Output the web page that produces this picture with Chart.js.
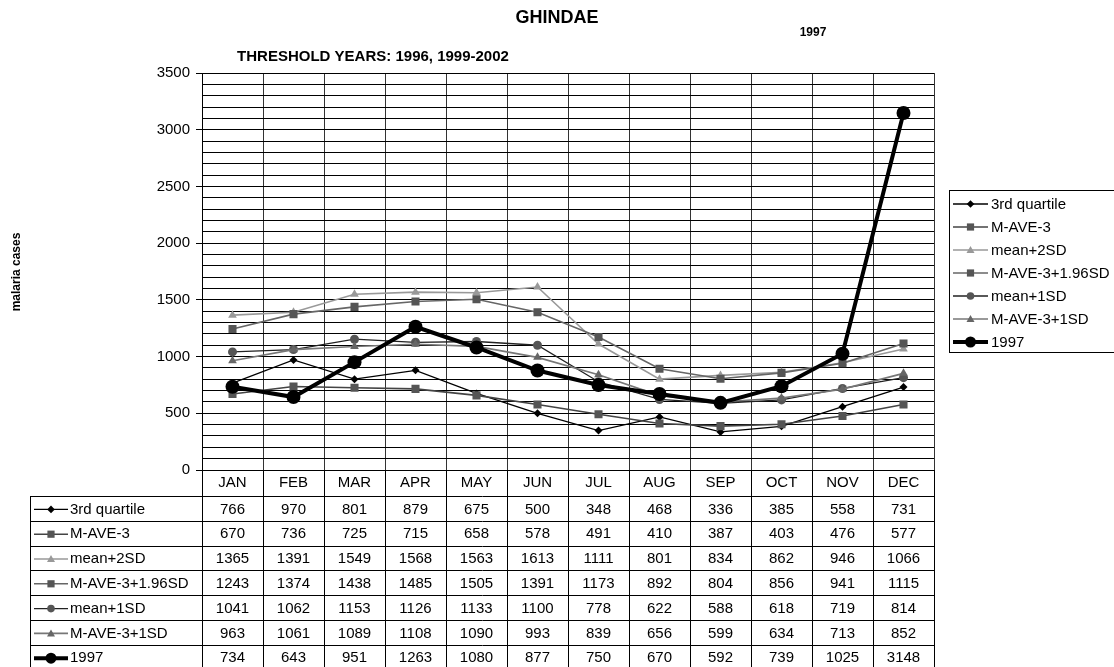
<!DOCTYPE html>
<html>
<head>
<meta charset="utf-8">
<script src="https://cdn.jsdelivr.net/npm/chart.js@4/dist/chart.umd.min.js"></script>
<style>
  html, body { margin: 0; padding: 0; background: #fff; }
  #wrap { width: 1114px; height: 667px; position: relative; }
</style>
</head>
<body>
<div id="wrap"><canvas id="malariaChart" width="1114" height="667"></canvas></div>
<script>
const months = ["JAN", "FEB", "MAR", "APR", "MAY", "JUN", "JUL", "AUG", "SEP", "OCT", "NOV", "DEC"];
const thirdQuartile = [766, 970, 801, 879, 675, 500, 348, 468, 336, 385, 558, 731];
const mAve3 = [670, 736, 725, 715, 658, 578, 491, 410, 387, 403, 476, 577];
const meanPlus2SD = [1365, 1391, 1549, 1568, 1563, 1613, 1111, 801, 834, 862, 946, 1066];
const mAve3Plus196SD = [1243, 1374, 1438, 1485, 1505, 1391, 1173, 892, 804, 856, 941, 1115];
const meanPlus1SD = [1041, 1062, 1153, 1126, 1133, 1100, 778, 622, 588, 618, 719, 814];
const mAve3Plus1SD = [963, 1061, 1089, 1108, 1090, 993, 839, 656, 599, 634, 713, 852];
const year1997 = [734, 643, 951, 1263, 1080, 877, 750, 670, 592, 739, 1025, 3148];

const FONT = "'Liberation Sans', Arial, sans-serif";

// keyR = marker size used in the legend / table keys
const series = [
  { label: "3rd quartile", data: thirdQuartile, line: "#000", point: "#000", style: "rectRot", r: 4, keyR: 3.8, w: 1.3 },
  { label: "M-AVE-3", data: mAve3, line: "#444", point: "#555", style: "rect", r: 5.7, keyR: 3.6, w: 1.6 },
  { label: "mean+2SD", data: meanPlus2SD, line: "#999", point: "#999", style: "triangle", r: 5, keyR: 4, w: 1.6 },
  { label: "M-AVE-3+1.96SD", data: mAve3Plus196SD, line: "#666", point: "#555", style: "rect", r: 5.7, keyR: 3.6, w: 1.6 },
  { label: "mean+1SD", data: meanPlus1SD, line: "#222", point: "#555", style: "circle", r: 4.5, keyR: 3.8, w: 1.3 },
  { label: "M-AVE-3+1SD", data: mAve3Plus1SD, line: "#777", point: "#666", style: "triangle", r: 5, keyR: 4, w: 1.6 },
  { label: "1997", data: year1997, line: "#000", point: "#000", style: "circle", r: 7, keyR: 5.5, w: 4 },
];

// small marker painter for the legend and the data table keys
function drawMarker(ctx, s, x, y, r) {
  ctx.fillStyle = s.point;
  ctx.beginPath();
  if (s.style === "circle") {
    ctx.arc(x, y, r, 0, Math.PI * 2);
  } else if (s.style === "rect") {
    ctx.rect(x - r, y - r, r * 2, r * 2);
  } else if (s.style === "rectRot") {
    ctx.moveTo(x, y - r); ctx.lineTo(x + r, y); ctx.lineTo(x, y + r); ctx.lineTo(x - r, y);
    ctx.closePath();
  } else if (s.style === "triangle") {
    ctx.moveTo(x, y - r); ctx.lineTo(x + r, y + r * 0.75); ctx.lineTo(x - r, y + r * 0.75);
    ctx.closePath();
  }
  ctx.fill();
}

function drawKey(ctx, s, x0, x1, y) {
  ctx.strokeStyle = s.line;
  ctx.lineWidth = s.w;
  ctx.beginPath();
  ctx.moveTo(x0, y);
  ctx.lineTo(x1, y);
  ctx.stroke();
  drawMarker(ctx, s, (x0 + x1) / 2, y, s.keyR);
}

const extras = {
  id: "extras",
  afterDraw(chart) {
    const ctx = chart.ctx;
    const xs = chart.scales.x;
    const area = chart.chartArea;
    const colW = (area.right - area.left) / months.length;
    ctx.save();

    // titles
    ctx.fillStyle = "#000";
    ctx.textAlign = "center";
    ctx.textBaseline = "middle";
    ctx.font = "bold 18px " + FONT;
    ctx.fillText("GHINDAE", 557, 18);
    ctx.font = "bold 12px " + FONT;
    ctx.fillText("1997", 813, 33);
    ctx.font = "bold 15px " + FONT;
    ctx.fillText("THRESHOLD YEARS: 1996, 1999-2002", 373, 57);

    ctx.save();
    ctx.translate(17, 272);
    ctx.rotate(-Math.PI / 2);
    ctx.font = "bold 12px " + FONT;
    ctx.fillText("malaria cases", 0, 0);
    ctx.restore();

    // data table
    const tableLeft = 30.5;
    const monthBottom = 496;
    const rowH = 24.8;
    ctx.strokeStyle = "#000";
    ctx.lineWidth = 1;
    ctx.beginPath();
    for (let i = 0; i <= months.length; i++) {
      const x = Math.round(area.left + i * colW) + 0.5;
      ctx.moveTo(x, area.bottom);
      ctx.lineTo(x, 667);
    }
    ctx.moveTo(tableLeft, monthBottom);
    ctx.lineTo(tableLeft, 667);
    for (let r = 0; r <= series.length; r++) {
      const y = Math.round(monthBottom + r * rowH) + 0.5;
      ctx.moveTo(tableLeft, y);
      ctx.lineTo(area.right + 0.5, y);
    }
    ctx.stroke();

    ctx.font = "15px " + FONT;
    series.forEach((s, r) => {
      const cy = monthBottom + r * rowH + rowH / 2 + 1;
      drawKey(ctx, s, 34, 68, cy);
      ctx.fillStyle = "#000";
      ctx.textAlign = "left";
      ctx.fillText(s.label, 70, cy);
      ctx.textAlign = "center";
      s.data.forEach((v, i) => {
        ctx.fillText(String(v), xs.getPixelForValue(i), cy);
      });
    });

    // legend box
    ctx.lineWidth = 1;
    ctx.strokeStyle = "#000";
    ctx.strokeRect(949.5, 190.5, 180, 162);
    ctx.font = "15px " + FONT;
    series.forEach((s, r) => {
      const cy = 204 + r * 23;
      drawKey(ctx, s, 953, 988, cy);
      ctx.fillStyle = "#000";
      ctx.textAlign = "left";
      ctx.fillText(s.label, 991, cy + 1);
    });

    ctx.restore();
  },
};

new Chart(document.getElementById("malariaChart"), {
  type: "line",
  data: {
    labels: months,
    datasets: series.map((s, i) => ({
      label: s.label,
      data: s.data,
      borderColor: s.line,
      backgroundColor: s.point,
      pointBackgroundColor: s.point,
      pointBorderColor: s.point,
      pointBorderWidth: 0,
      pointStyle: s.style,
      pointRadius: s.r,
      borderWidth: s.w,
      tension: 0,
      order: series.length - 1 - i,
    })),
  },
  options: {
    responsive: false,
    animation: false,
    layout: { padding: { left: 0, top: 73, right: 180, bottom: 0 } },
    plugins: {
      legend: { display: false },
      tooltip: { enabled: false },
      title: { display: false },
    },
    scales: {
      x: {
        offset: true,
        grid: { offset: true, color: "#333", drawTicks: false },
        border: { color: "#000" },
        ticks: { color: "#000", font: { family: FONT, size: 15 }, padding: 4 },
        afterFit: (scale) => { scale.height = 197; },
      },
      y: {
        min: 0,
        max: 3500,
        grid: {
          color: "#000",
          tickLength: 6,
          tickColor: (c) => (c.tick && c.tick.value % 500 === 0 ? "#000" : "rgba(0,0,0,0)"),
        },
        border: { color: "#000" },
        ticks: {
          stepSize: 100,
          autoSkip: false,
          padding: 6,
          color: "#000",
          font: { family: FONT, size: 15 },
          callback: (v) => (v % 500 === 0 ? v : ""),
        },
        afterFit: (scale) => { scale.width = 202; },
      },
    },
  },
  plugins: [extras],
});
</script>
</body>
</html>
